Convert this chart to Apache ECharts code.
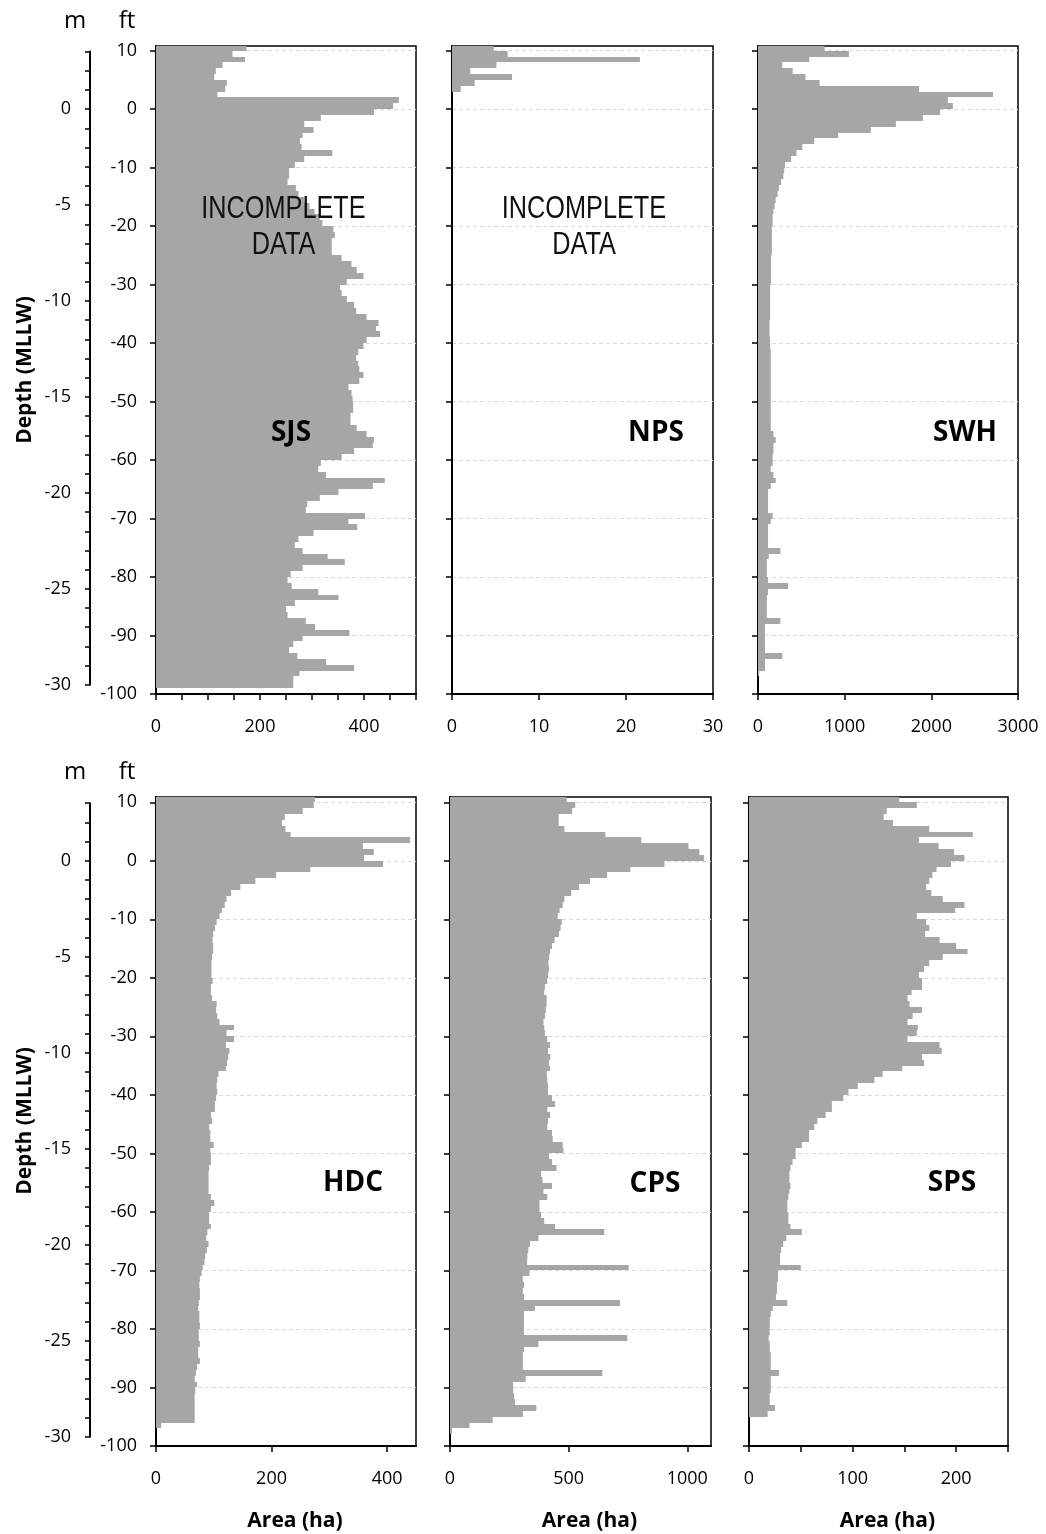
<!DOCTYPE html>
<html>
<head>
<meta charset="utf-8">
<title>Hypsometry by basin</title>
<script src="https://cdn.jsdelivr.net/npm/echarts@6/dist/echarts.min.js"></script>
<style>
  html, body { margin: 0; padding: 0; background: #fff; }
  #chart { width: 1046px; height: 1534px; }
</style>
</head>
<body>
<div id="chart"></div>
<script>
  // 1 ft depth bins, each given by its upper edge (ft MLLW): 11 .. -98
  const binTop = Array.from({length: 110}, (_, i) => 11 - i);

  // area (ha) per 1 ft bin, top bin first
  const sjs = [174,147,171,128,115,112,136,133,118,467,
    456,419,317,285,303,282,277,280,339,285,
    267,256,256,253,269,274,285,295,305,315,
    320,341,344,338,338,338,357,376,386,399,
    367,354,357,367,381,385,405,428,423,431,
    405,399,389,385,389,391,399,391,370,376,
    378,379,379,374,374,386,405,419,417,381,
    357,317,312,327,440,417,351,315,291,288,
    402,370,387,303,274,267,282,330,363,282,
    259,253,261,312,351,267,250,253,288,306,
    372,282,264,256,272,327,381,276,264,264];
  const nps = [4.8,6.4,21.6,5.1,2.1,6.9,2.6,1.0];
  const swh = [769,1049,591,280,400,547,711,1858,2711,2191,
    2249,2102,1902,1591,1302,924,649,511,444,382,
    311,302,293,267,240,227,204,191,178,169,
    169,160,160,160,160,160,150,150,150,150,
    150,140,140,140,140,140,140,133,133,133,
    140,140,147,147,147,147,147,147,147,147,
    147,147,147,147,147,147,178,204,178,178,
    169,169,147,178,204,147,116,116,116,116,
    169,147,116,116,116,116,258,124,102,102,
    102,116,347,116,102,102,102,102,258,80,
    80,80,80,80,280,80,80,13,null,null];
  const hdc = [275,273,254,223,218,224,233,440,358,377,
    360,393,267,208,172,146,130,122,119,114,
    110,105,102,99,98,99,99,97,96,96,
    96,98,95,95,97,105,104,106,110,135,
    122,135,121,127,125,123,121,108,106,105,
    106,104,102,102,95,97,92,94,94,100,
    94,95,95,92,91,91,91,91,95,101,
    95,92,92,95,89,87,91,88,85,84,
    81,79,76,75,76,76,74,73,75,75,
    76,74,74,76,73,73,76,71,69,67,
    71,68,67,67,67,67,67,9,null,null];
  const cps = [492,528,515,458,458,482,655,806,1005,1051,
    1070,904,760,662,590,544,511,482,475,462,
    454,471,466,459,441,430,422,418,415,417,
    413,410,400,397,408,407,404,400,394,397,
    400,410,422,413,423,417,422,408,410,413,
    413,430,443,410,422,413,410,430,433,475,
    478,417,430,449,384,390,430,394,410,377,
    377,384,397,443,650,373,337,330,326,325,
    753,335,307,312,307,312,716,358,312,312,
    312,312,747,373,312,307,307,307,642,319,
    266,266,270,274,364,307,180,82,8,null];
  const sps = [145,162,133,130,139,174,216,164,183,198,
    208,195,181,177,174,171,176,187,208,199,
    162,171,174,170,184,200,211,187,174,169,
    164,167,167,157,153,155,167,158,153,163,
    162,153,184,186,167,169,148,129,121,105,
    96,91,80,80,74,66,63,58,58,51,
    45,45,42,40,39,39,40,39,38,37,
    37,38,38,40,51,36,33,31,30,30,
    50,28,28,27,27,26,37,23,21,20,
    20,20,19,20,20,21,21,21,29,21,
    21,21,20,20,25,18,null,null,null,null];

  // tick labels
  const ftTicks = [10,0,-10,-20,-30,-40,-50,-60,-70,-80,-90,-100];
  const mLabels = [0,-5,-10,-15,-20,-25,-30];
  const sjsTicks = [0,50,100,150,200,250,300,350,400,450,500];
  const sjsLabels = [0,200,400];
  const npsTicks = [0,10,20,30];
  const swhTicks = [0,1000,2000,3000];
  const hdcTicks = [0,200,400];
  const cpsTicks = [0,500,1000];
  const spsTicks = [0,50,100,150,200,250];
  const spsLabels = [0,100,200];

  const FT_PER_M = 3.28084;
  const font = 'Open Sans';

  const panels = [
    {name: 'SJS', data: sjs, xMax: 500, ticks: sjsTicks, labels: sjsLabels, left: 156, top: 46, width: 260, height: 648, ftMax: 10.8, tag: [291, 433], note: [283.5, 227]},
    {name: 'NPS', data: nps, xMax: 30, ticks: npsTicks, labels: npsTicks, left: 452, top: 46, width: 261, height: 648, ftMax: 10.8, tag: [656, 433], note: [584, 227]},
    {name: 'SWH', data: swh, xMax: 3000, ticks: swhTicks, labels: swhTicks, left: 758, top: 46, width: 260, height: 648, ftMax: 10.8, tag: [965, 433]},
    {name: 'HDC', data: hdc, xMax: 450, ticks: hdcTicks, labels: hdcTicks, left: 156, top: 797, width: 260, height: 649, ftMax: 10.9, tag: [353, 1183]},
    {name: 'CPS', data: cps, xMax: 1100, ticks: cpsTicks, labels: cpsTicks, left: 450, top: 797, width: 261, height: 649, ftMax: 10.9, tag: [655, 1184]},
    {name: 'SPS', data: sps, xMax: 250, ticks: spsTicks, labels: spsLabels, left: 749, top: 797, width: 259, height: 649, ftMax: 10.9, tag: [952, 1183]}
  ];

  // one rectangle per 1 ft bin, edges snapped to whole pixels so bins butt together
  function renderBin(params, api) {
    const val = api.value(0);
    const top = api.value(1);
    const p0 = api.coord([0, top]);
    const p1 = api.coord([val, top - 1]);
    const cs = params.coordSys;
    const y0 = Math.round(p0[1]), y1 = Math.round(p1[1]);
    const shape = echarts.graphic.clipRectByRect(
      {x: p0[0], y: y0, width: p1[0] - p0[0], height: y1 - y0},
      {x: cs.x, y: cs.y, width: cs.width, height: cs.height}
    );
    return shape && {type: 'rect', shape: shape, style: {fill: '#a6a6a6'}};
  }

  const grid = [], xAxis = [], yAxis = [], series = [], graphic = [];
  const labelStyle = {fontFamily: font, fontSize: 18, color: '#000'};

  panels.forEach(function (p, k) {
    const col = k % 3, row = Math.floor(k / 3);
    grid.push({left: p.left, top: p.top, width: p.width, height: p.height,
      show: true, borderColor: '#000', borderWidth: 1.5, backgroundColor: '#fff'});
    xAxis.push({
      type: 'value', gridIndex: k, min: 0, max: p.xMax,
      axisLine: {onZero: false, lineStyle: {color: '#000', width: 2}},
      axisTick: {length: 6, customValues: p.ticks, lineStyle: {color: '#000', width: 1.5}},
      axisLabel: Object.assign({margin: 24, customValues: p.labels, formatter: v => String(v)}, labelStyle),
      splitLine: {show: false},
      name: row === 1 ? 'Area (ha)' : '',
      nameLocation: 'middle', nameGap: 65,
      nameTextStyle: {fontFamily: font, fontSize: 21, fontWeight: 'bold', color: '#000', padding: [0, 0, 0, 18]}
    });
    yAxis.push({
      type: 'value', gridIndex: k, min: -100, max: p.ftMax,
      axisLine: {onZero: false, lineStyle: {color: '#000', width: 2}},
      axisTick: {length: 6, customValues: ftTicks, lineStyle: {color: '#000', width: 1.5}},
      axisLabel: Object.assign({show: col === 0, margin: 19, customValues: ftTicks,
        formatter: v => (v % 10 === 0 ? String(v) : '')}, labelStyle),
      splitLine: {show: true, lineStyle: {color: '#d9d9d9', width: 1, type: [4, 3]}}
    });
    series.push({
      type: 'custom', name: p.name, xAxisIndex: k, yAxisIndex: k,
      renderItem: renderBin, encode: {x: 0, y: 1},
      data: p.data.map((v, i) => [v, binTop[i]]).filter(d => d[0] != null)
    });
    graphic.push({type: 'text', x: p.tag[0], y: p.tag[1], z: 100,
      style: {text: p.name, fontFamily: font, fontSize: 28, fontWeight: 'bold', fill: '#000', align: 'center', verticalAlign: 'middle'}});
    if (p.note) {
      graphic.push({type: 'text', x: p.note[0], y: p.note[1], z: 100, scaleX: 0.79,
        style: {text: 'INCOMPLETE\nDATA', fontFamily: 'Liberation Sans', fontSize: 32, lineHeight: 36, fill: '#111', align: 'center', verticalAlign: 'middle'}});
    }
  });

  // metre scale beside each row, aligned with the feet axis
  [panels[0], panels[3]].forEach(function (p) {
    const g = grid.length;
    const pxPerFt = p.height / (p.ftMax + 100);
    const top = p.top + (p.ftMax - 3 * FT_PER_M) * pxPerFt;
    const bottom = p.top + (p.ftMax + 30 * FT_PER_M) * pxPerFt;
    grid.push({left: 90, top: top, width: 1, height: bottom - top, show: false});
    xAxis.push({type: 'value', gridIndex: g, show: false, min: 0, max: 1});
    yAxis.push({
      type: 'value', gridIndex: g, min: -30, max: 3, interval: 1,
      axisLine: {onZero: false, lineStyle: {color: '#000', width: 2}},
      axisTick: {length: 5, lineStyle: {color: '#000', width: 1.5}},
      axisLabel: Object.assign({margin: 19, customValues: mLabels,
        formatter: v => (v % 5 === 0 ? String(v) : '')}, labelStyle),
      splitLine: {show: false}
    });
    const dy = p.top - 46;
    graphic.push(
      {type: 'text', x: 75, y: 21 + dy, z: 100, style: {text: 'm', fontFamily: font, fontSize: 24, fill: '#000', align: 'center', verticalAlign: 'middle'}},
      {type: 'text', x: 127, y: 21 + dy, z: 100, style: {text: 'ft', fontFamily: font, fontSize: 24, fill: '#000', align: 'center', verticalAlign: 'middle'}},
      {type: 'text', x: 25, y: 370 + dy, z: 100, rotation: Math.PI / 2,
        style: {text: 'Depth (MLLW)', fontFamily: font, fontSize: 21, fontWeight: 'bold', fill: '#000', align: 'center', verticalAlign: 'middle'}}
    );
  });

  const chart = echarts.init(document.getElementById('chart'), null, {renderer: 'canvas'});
  chart.setOption({
    animation: false,
    backgroundColor: '#fff',
    grid: grid,
    xAxis: xAxis,
    yAxis: yAxis,
    series: series,
    graphic: graphic
  });
</script>
</body>
</html>
